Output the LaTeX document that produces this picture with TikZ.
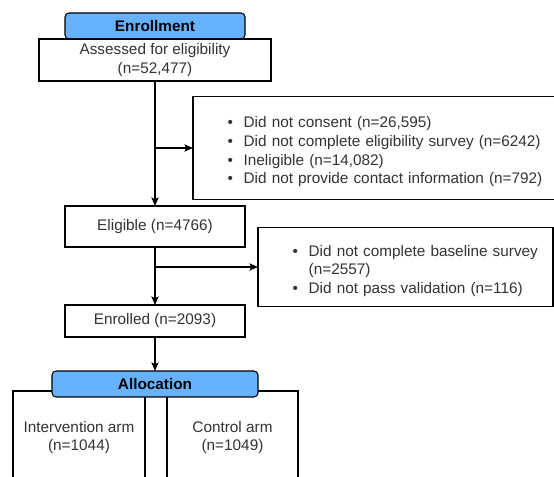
\documentclass[tikz,border=0pt]{standalone}
\usepackage{fontspec}
\setmainfont{Liberation Sans}
\usepackage{tikz}
\usetikzlibrary{arrows.meta, positioning, calc, backgrounds}

\definecolor{hdrblue}{HTML}{66B2FF}
\definecolor{txtgray}{HTML}{333333}

\newcommand{\exitem}[1]{\par\hangindent=12pt\hangafter=1\noindent\makebox[12pt][l]{\textbullet}#1}

\begin{document}
\begin{tikzpicture}[node distance=1.8cm,
    hdrbox/.style={rectangle, draw=black, fill=hdrblue, rounded corners=3pt, line width=0.8pt, minimum height=19.5pt, inner sep=0pt, outer sep=0pt, font=\fontsize{11.5}{14}\selectfont\bfseries},
    flowbox/.style={rectangle, draw=black, fill=white, line width=0.8pt, text=txtgray, align=center, inner sep=0pt, outer sep=0pt, font=\fontsize{11.5}{14}\selectfont},
    exclbox/.style={rectangle, draw=black, fill=white, line width=0.8pt, text=txtgray, inner xsep=0pt, inner ysep=0pt, outer sep=0pt, font=\fontsize{11.5}{14}\selectfont},
    flowline/.style={draw=black, line width=0.8pt, -{Stealth[length=6.5pt, width=5.5pt, inset=1.5pt]}}]

    \useasboundingbox (-116.25pt,19.5pt) rectangle ++(415.5pt,-357.75pt);

    \node [hdrbox, minimum width=135pt] (enroll) at (0,0) {Enrollment};
    \node [flowbox, minimum width=174pt, minimum height=31.5pt, below=0pt of enroll] (assessed) {Assessed for eligibility\\(n=52,477)};
    \node [flowbox, minimum width=135pt, minimum height=30.75pt, below=93.75pt of assessed] (eligible) {Eligible (n=4766)};
    \node [flowbox, minimum width=135pt, minimum height=24pt, below=43.5pt of eligible] (enrolled) {Enrolled (n=2093)};
    \node [hdrbox, minimum width=154.5pt, below=25.5pt of enrolled] (alloc) {Allocation};

    % arms sit behind the allocation header
    \begin{scope}[on background layer]
        \node [flowbox, minimum width=99pt, minimum height=69.75pt, anchor=north east] (interv) at ($(alloc.south)+(-7.5pt,4.5pt)$) {Intervention arm\\(n=1044)};
        \node [flowbox, minimum width=98.25pt, minimum height=69.75pt, anchor=north west] (control) at ($(alloc.south)+(9pt,4.5pt)$) {Control arm\\(n=1049)};
    \end{scope}

    \coordinate (split1) at ($(assessed.south)!0.536!(eligible.north)$);
    \coordinate (split2) at ($(eligible.south)!0.345!(enrolled.north)$);

    \node [exclbox, text width=285pt, minimum height=77.25pt, right=28.5pt of split1] (excl1) {\raggedright\leftskip=26pt
        \exitem{Did not consent (n=26,595)}
        \exitem{Did not complete eligibility survey (n=6242)}
        \exitem{Ineligible (n=14,082)}
        \exitem{Did not provide contact information (n=792)}\par};
    \node [exclbox, text width=221.25pt, minimum height=59.25pt, right=77.25pt of split2] (excl2) {\raggedright\leftskip=26pt
        \exitem{Did not complete baseline survey\newline(n=2557)}
        \exitem{Did not pass validation (n=116)}\par};

    \path [flowline] (assessed) -- (eligible);
    \path [flowline] (split1) -- (excl1.west);
    \path [flowline] (eligible) -- (enrolled);
    \path [flowline] (split2) -- (excl2.west);
    \path [flowline] (enrolled) -- (alloc);
\end{tikzpicture}
\end{document}
